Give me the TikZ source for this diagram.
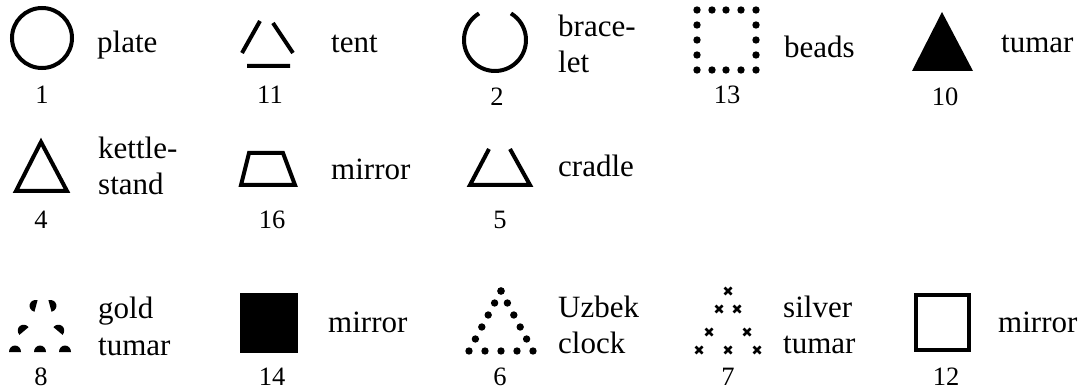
\documentclass[tikz,border=0pt]{standalone}
\usepackage{fontspec}
\setmainfont{Liberation Serif}
\usetikzlibrary{positioning}
\tikzset{
  sym/.style={line width=4pt, line join=miter},
  lbl/.style={font=\fontsize{31}{36}\selectfont, anchor=base west, inner sep=0pt, align=left},
  num/.style={font=\fontsize{26.5}{30}\selectfont, inner sep=0pt},
}
\newcommand{\bead}[2]{\fill (#1,#2) circle[radius=3.7];}
\newcommand{\xcross}[2]{\draw[line width=2.6pt] (#1-3.5,#2-3.5) -- (#1+3.5,#2+3.5) (#1-3.5,#2+3.5) -- (#1+3.5,#2-3.5);}
\newcommand{\goldmark}[3]{\fill[rotate around={#3:(#1,#2)}] (#1-6,#2) arc[start angle=180, end angle=360, x radius=6, y radius=6.5] -- cycle;}

\begin{document}
\begin{tikzpicture}[x=1pt, y=-1pt]
  \useasboundingbox (0,0) rectangle (1085,390);

  % first row
  \draw[sym] (42,38) circle[radius=30];
  \node[num] (n1) at (42,95) {1};
  \node[lbl] (plate) at (97,53) {plate};

  \draw[sym] (242,53) -- (260,21) (273,23) -- (293,53) (247,66) -- (290,66);
  \node[num] (n11) at (270,95) {11};
  \node[lbl] (tent) at (331,53) {tent};

  \coordinate (bc) at (495,40);
  \draw[sym] (bc) ++(-121:31) arc[start angle=-121, end angle=-419, radius=31];
  \node[num] (n2) at (497,97) {2};
  \node[lbl] (bracelet) at (558,73) {brace-\\let};

  \foreach \x in {697,712,726,741,756} {\bead{\x}{10} \bead{\x}{70}}
  \foreach \y in {25,40,55} {\bead{697}{\y} \bead{756}{\y}}
  \node[num] (n13) at (727,95) {13};
  \node[lbl] (beads) at (784,58) {beads};

  \fill (942,12) -- (973,71) -- (912,71) -- cycle;
  \node[num] (n10) at (945,97) {10};
  \node[lbl] (tumar) at (1001,53) {tumar};

  % second row
  \draw[sym] (41,142) -- (67,191) -- (16,191) -- cycle;
  \node[num] (n4) at (41,220) {4};
  \node[lbl] (kettlestand) at (98,195) {kettle-\\stand};

  \draw[sym] (249,153) -- (283,153) -- (295,185) -- (241,185) -- cycle;
  \node[num] (n16) at (272,220) {16};
  \node[lbl] (mirrorA) at (331,180) {mirror};

  \draw[sym] (489,149) -- (470,185) -- (530,185) -- (510,149);
  \node[num] (n5) at (500,220) {5};
  \node[lbl] (cradle) at (558,177) {cradle};

  % third row
  \foreach \x in {15,40,65} {\goldmark{\x}{352}{0}}
  \goldmark{24}{331}{40}
  \goldmark{58}{331}{-40}
  \goldmark{36}{306}{75}
  \goldmark{50}{306}{-75}
  \node[num] (n8) at (41,377) {8};
  \node[lbl] (goldtumar) at (98,355) {gold\\tumar};

  \fill (240,293) rectangle (298,353);
  \node[num] (n14) at (272,377) {14};
  \node[lbl] (mirrorB) at (328,333) {mirror};

  \foreach \i in {0,...,5} {\bead{501-6.4*\i}{291+12*\i} \bead{501+6.4*\i}{291+12*\i}}
  \foreach \x in {485,501,517} {\bead{\x}{351}}
  \node[num] (n6) at (500,377) {6};
  \node[lbl] (uzbekclock) at (558,353) {Uzbek\\clock};

  \foreach \x/\y in {728/291, 719/309, 737/309, 709/332, 747/332, 699/350, 728/350, 757/350} {\xcross{\x}{\y}}
  \node[num] (n7) at (728,377) {7};
  \node[lbl] (silvertumar) at (783,353) {silver\\tumar};

  \draw[sym] (916,295) rectangle (969,350);
  \node[num] (n12) at (946,377) {12};
  \node[lbl] (mirrorC) at (998,333) {mirror};
\end{tikzpicture}
\end{document}
